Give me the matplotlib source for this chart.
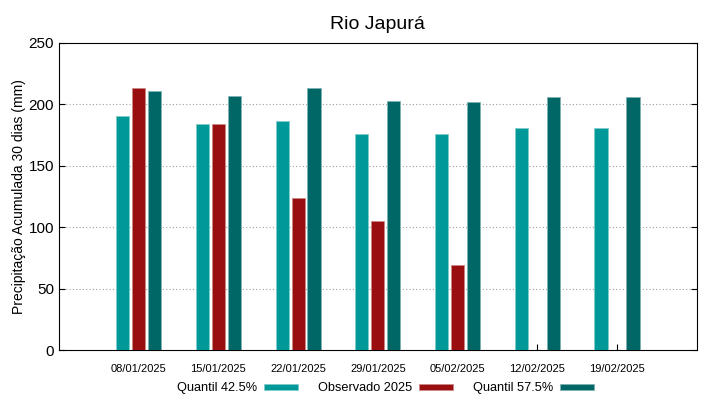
import numpy as np
import matplotlib.pyplot as plt

plt.rcParams['font.family'] = ['Liberation Sans', 'DejaVu Sans']

datas = ['08/01/2025', '15/01/2025', '22/01/2025', '29/01/2025',
         '05/02/2025', '12/02/2025', '19/02/2025']
q425 = [190.5, 183.8, 186.2, 175.9, 175.9, 180.8, 180.8]
obs = [213.6, 183.8, 123.8, 104.8, 69.2, np.nan, np.nan]
q575 = [210.9, 207.1, 213.6, 203.0, 202.2, 206.3, 205.7]

c_q1 = '#009999'
c_obs = '#990f0f'
c_q2 = '#006666'

fig = plt.figure(figsize=(7.19, 3.99), dpi=100)
ax = fig.add_axes([0.082, 0.1228, 0.887, 0.7695])

x = np.arange(len(datas))
w = 0.165
ax.bar(x - 0.2, q425, w, color=c_q1, edgecolor='#7fcccc', linewidth=0.6, label='Quantil 42.5%', zorder=3)
ax.bar(x, obs, w, color=c_obs, edgecolor='#cc8787', linewidth=0.6, label='Observado 2025', zorder=3)
ax.bar(x + 0.2, q575, w, color=c_q2, edgecolor='#7fb2b2', linewidth=0.6, label='Quantil 57.5%', zorder=3)

ax.set_xlim(-1, 7)
ax.set_ylim(0, 250)
ax.set_xticks(x)
ax.set_xticklabels(datas, fontsize=8)
ax.set_yticks([0, 50, 100, 150, 200, 250])
ax.tick_params(axis='y', labelsize=11, direction='in', right=True, length=4)
ax.tick_params(axis='x', direction='in', length=4, pad=10)
for yv in [50, 100, 150, 200]:
    ax.axhline(yv, color='#a0a0a0', linestyle=(0, (1, 2)), linewidth=0.8, zorder=1)
for s in ax.spines.values():
    s.set_linewidth(0.8)

ax.set_ylabel('Precipitação Acumulada 30 dias (mm)', fontsize=10, labelpad=2)
ax.set_title('Rio Japurá', fontsize=14, pad=10)

# legenda estilo gnuplot: texto antes da amostra
handles, labels = ax.get_legend_handles_labels()
leg = fig.legend(handles, labels, loc='center', bbox_to_anchor=(0.536, 0.027), ncol=3, frameon=False,
                 markerfirst=False, handlelength=2.6, handleheight=0.35, fontsize=9.2,
                 columnspacing=1.6, handletextpad=0.55, borderpad=0)

fig.savefig('out.png', dpi=100)
